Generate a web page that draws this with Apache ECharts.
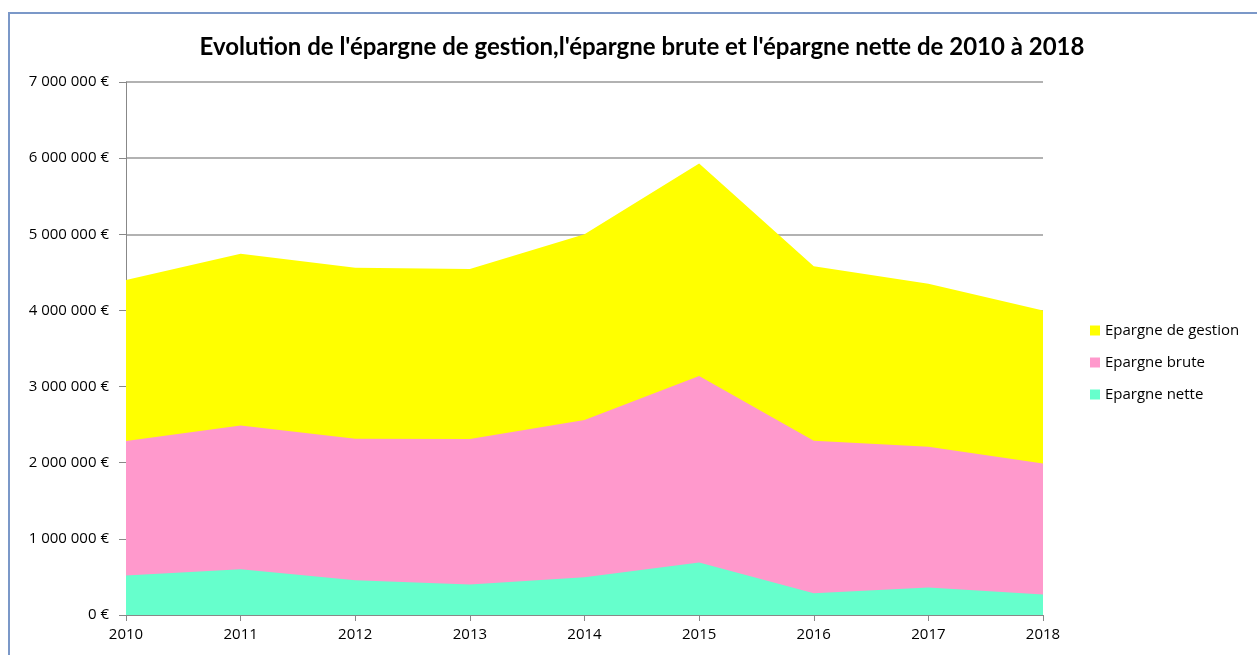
<!DOCTYPE html>
<html>
<head>
<meta charset="utf-8">
<script src="https://cdn.jsdelivr.net/npm/echarts@6/dist/echarts.min.js"></script>
<style>
  html, body { margin: 0; padding: 0; background: #fff; }
</style>
</head>
<body>
<div id="chart" style="width:1257px;height:655px"></div>
<script>
// années
const annees = ['2010', '2011', '2012', '2013', '2014', '2015', '2016', '2017', '2018'];
// valeurs (en €)
const epargneGestion = [4400000, 4745000, 4560000, 4545000, 5000000, 5930000, 4580000, 4350000, 4000000];
const epargneBrute = [2285000, 2490000, 2315000, 2310000, 2560000, 3140000, 2290000, 2210000, 1990000];
const epargneNette = [520000, 600000, 455000, 400000, 495000, 690000, 285000, 360000, 270000];
const nomsSeries = ['Epargne de gestion', 'Epargne brute', 'Epargne nette'];
const couleurs = ['#ffff00', '#ff99cc', '#66ffcc'];

function euro(v) {
  // séparateur de milliers : espace
  return String(v).replace(/\B(?=(\d{3})+(?!\d))/g, ' ') + ' €';
}

const valeurs = [epargneGestion, epargneBrute, epargneNette];

let chart = echarts.init(document.getElementById('chart'));
chart.setOption({
  animation: false,
  textStyle: { fontFamily: 'Open Sans' },
  title: {
    text: "Evolution de l'épargne de gestion,l'épargne brute et l'épargne nette de 2010 à 2018",
    left: 637,
    textAlign: 'center',
    top: 30,
    textStyle: { fontFamily: 'Lato', fontWeight: 'bold', fontSize: 24, color: '#000' }
  },
  legend: {
    orient: 'vertical',
    left: 1085,
    top: 318,
    itemWidth: 10,
    itemHeight: 10,
    itemGap: 17,
    icon: 'rect',
    textStyle: { fontSize: 15, color: '#000', fontFamily: 'Open Sans' },
    data: nomsSeries
  },
  grid: { left: 126, right: 214, top: 82, bottom: 40 },
  xAxis: {
    type: 'category',
    boundaryGap: false,
    data: annees,
    axisLine: { lineStyle: { color: '#888', width: 1 } },
    axisTick: { show: true, length: 6, lineStyle: { color: '#888' } },
    axisLabel: { color: '#000', fontSize: 15, margin: 12 }
  },
  yAxis: {
    type: 'value',
    min: 0,
    max: 7000000,
    interval: 1000000,
    axisLine: { show: true, lineStyle: { color: '#888' } },
    axisTick: { show: true, length: 7, lineStyle: { color: '#888' } },
    splitLine: { lineStyle: { color: '#999', width: 1.5 } },
    axisLabel: { color: '#000', fontSize: 15, margin: 17, formatter: euro }
  },
  graphic: [{
    type: 'rect',
    shape: { x: 9, y: 13, width: 1400, height: 800 },
    style: { fill: 'none', stroke: '#7b98c8', lineWidth: 2 },
    silent: true
  }],
  series: nomsSeries.map((nom, i) => ({
    name: nom,
    type: 'line',
    data: valeurs[i],
    symbol: 'none',
    lineStyle: { width: 0 },
    itemStyle: { color: couleurs[i] },
    areaStyle: { color: couleurs[i], opacity: 1 }
  }))
});
</script>
</body>
</html>
